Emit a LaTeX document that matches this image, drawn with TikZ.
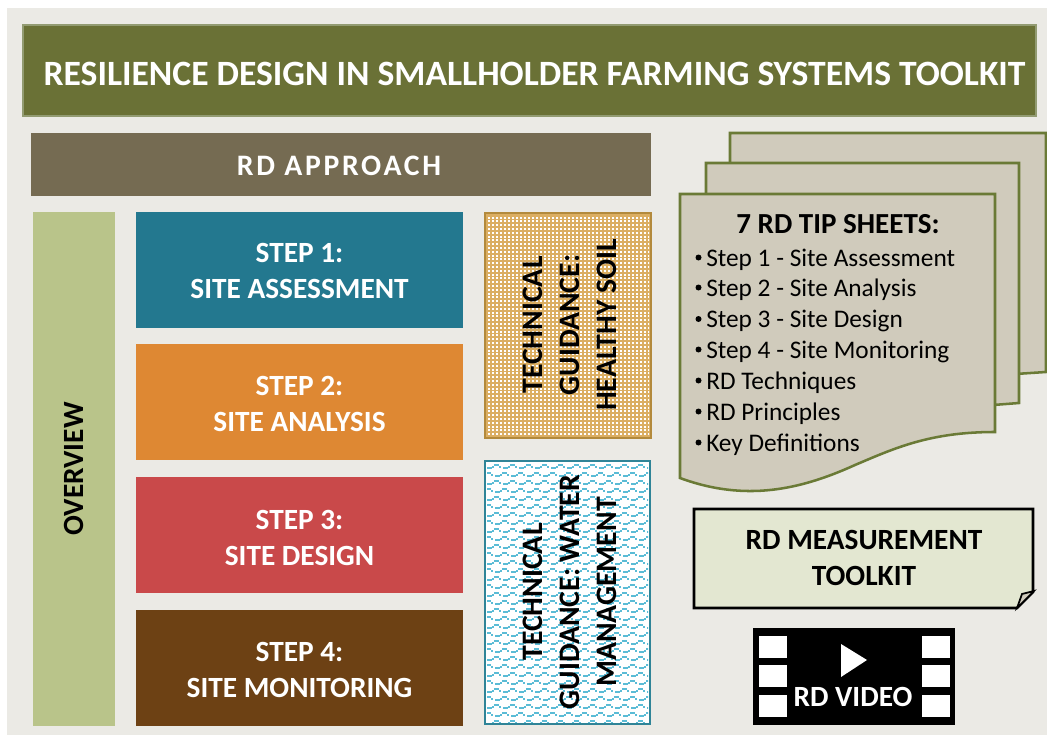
\documentclass[tikz,border=0pt]{standalone}
\usepackage{fontspec}
\setmainfont{Carlito}
\newfontfamily\spaced[LetterSpace=9]{Carlito}
\definecolor{bg}{HTML}{EBEAE5}
\definecolor{olive}{HTML}{6A7136}
\definecolor{oliveb}{HTML}{929B72}
\definecolor{appr}{HTML}{756B52}
\definecolor{over}{HTML}{B9C48A}
\definecolor{sone}{HTML}{23788F}
\definecolor{stwo}{HTML}{DE8833}
\definecolor{sthree}{HTML}{C9494A}
\definecolor{sfour}{HTML}{6D4114}
\definecolor{soil}{HTML}{DBAE62}
\definecolor{soilb}{HTML}{B38A3C}
\definecolor{wave}{HTML}{5BBCD6}
\definecolor{waveb}{HTML}{2F8497}
\definecolor{sheet}{HTML}{D0CBBC}
\definecolor{sheetb}{HTML}{6A7A36}
\definecolor{meas}{HTML}{E3E7D1}
\tikzset{
  x=0.75pt,y=-0.75pt,
  whitetxt/.style={text=white,font=\bfseries\fontsize{22}{27}\selectfont,align=center},
  blacktxt/.style={text=black,font=\bfseries\fontsize{22}{27}\selectfont,align=center},
  pagesheet/.style={fill=sheet,draw=sheetb,line width=1.9pt,miter limit=10},
  bullet/.style={text=black,font=\fontsize{19}{22}\selectfont,anchor=base west,inner sep=0pt},
  filmhole/.style={fill=white}
}
\begin{document}
\begin{tikzpicture}
\useasboundingbox (0,0) rectangle (1047,735);
\fill[white] (0,0) rectangle (1047,735);
\fill[bg] (7,8) rectangle (1047,735);
% title
\draw[fill=olive,draw=oliveb,line width=1.5pt] (22.5,25) rectangle (1036,116);
\node[text=white,font=\bfseries\fontsize{26.7}{30}\selectfont] (title) at (534.5,74) {RESILIENCE DESIGN IN SMALLHOLDER FARMING SYSTEMS TOOLKIT};
% approach
\fill[appr] (31,133) rectangle (651,196);
\node[text=white,font=\spaced\bfseries\fontsize{22.3}{26}\selectfont] (approach) at (339,166) {RD APPROACH};
% overview
\fill[over] (33,212) rectangle (115,726);
\node[blacktxt,rotate=90] (overview) at (74,469) {OVERVIEW};
% steps
\fill[sone] (136,212) rectangle (463,328);
\node[whitetxt] (s1) at (299.5,271) {STEP 1:\\SITE ASSESSMENT};
\fill[stwo] (136,344) rectangle (463,460);
\node[whitetxt] (s2) at (299.5,404) {STEP 2:\\SITE ANALYSIS};
\fill[sthree] (136,477) rectangle (463,593);
\node[whitetxt] (s3) at (299.5,537.5) {STEP 3:\\SITE DESIGN};
\fill[sfour] (136,610) rectangle (463,726);
\node[whitetxt] (s4) at (299.5,670) {STEP 4:\\SITE MONITORING};
% healthy soil
\fill[soil] (485,213) rectangle (651,438);
\begin{scope}
\clip (487,215) rectangle (649,436);
\foreach \i in {0,...,40}{
  \foreach \j in {0,...,58}{
    \fill[white] ({488+\i*4},{216.5+\j*3.8}) rectangle +(2.3,2.1);
  }
}
\end{scope}
\draw[soilb,line width=1.5pt] (485,213) rectangle (651,438);
\node[blacktxt,rotate=90,font=\bfseries\fontsize{22.3}{27.7}\selectfont] (soiltxt) at (569.5,325) {TECHNICAL\\GUIDANCE:\\HEALTHY SOIL};
% water
\fill[white] (485,461) rectangle (650,724);
\begin{scope}
\clip (487,463) rectangle (648,722);
\foreach \r in {0,...,33}{
  \pgfmathsetmacro{\ofs}{mod(\r,2)*8}
  \foreach \c in {-1,...,11}{
    \pgfmathsetmacro{\xx}{int(486+\c*16+\ofs)}
    \pgfmathsetmacro{\yy}{int(464+\r*8)}
    \fill[wave] (\xx+1,\yy+3) rectangle +(5,2);
    \fill[wave] (\xx+6,\yy+2) rectangle +(2,2);
    \fill[wave] (\xx+8,\yy) rectangle +(5,2);
    \fill[wave] (\xx+13,\yy+2) rectangle +(2,2);
  }
}
\end{scope}
\draw[waveb,line width=1.5pt] (485,461) rectangle (650,724);
\node[blacktxt,rotate=90,font=\bfseries\fontsize{22.3}{27.7}\selectfont] (watertxt) at (569.5,592) {TECHNICAL\\GUIDANCE: WATER\\MANAGEMENT};
% sheets
\draw[pagesheet] (730,133) -- (1046,133) -- (1046,372) -- (1000,375) -- (730,375) -- cycle;
\draw[pagesheet] (706,163) -- (1019,163) -- (1019,403) -- (980,406) -- (706,406) -- cycle;
\draw[pagesheet] (680,194) -- (995,194) -- (995,432) .. controls (930,432) and (895,448) .. (855,465) .. controls (800,490) and (745,502) .. (680,478) -- cycle;
\node[text=black,font=\bfseries\fontsize{21.8}{24}\selectfont] (tips) at (838,224.5) {7 RD TIP SHEETS:};
\foreach \yy/\tt/\nm in {266/{Step 1 - Site Assessment}/a,296/{Step 2 - Site Analysis}/b,327.5/{Step 3 - Site Design}/c,358/{Step 4 - Site Monitoring}/d,389/{RD Techniques}/e,420/{RD Principles}/f,451/{Key Definitions}/g}{
  \fill[black] (698.5,\yy-8.5) circle (3);
  \node[bullet] (tip\nm) at (706,\yy) {\tt};
}
% measurement
\draw[fill=meas,draw=black,line width=1.9pt] (694,509) -- (1033,509) -- (1033,592) -- (1017,608) -- (694,608) -- cycle;
\draw[fill=sheet,draw=black,line width=1.3pt] (1017,608) -- (1022,594) -- (1034,591) -- cycle;
\node[blacktxt] (meastxt) at (864,558) {RD MEASUREMENT\\TOOLKIT};
% video
\fill[black] (753,628) rectangle (955,725);
\foreach \yy in {636,665,695}{
  \fill[filmhole] (759,\yy) rectangle +(28,22);
  \fill[filmhole] (922,\yy) rectangle +(28,22);
}
\fill[white] (841,644) -- (867,660) -- (841,677) -- cycle;
\node[whitetxt] (video) at (853,697) {RD VIDEO};
\end{tikzpicture}
\end{document}
